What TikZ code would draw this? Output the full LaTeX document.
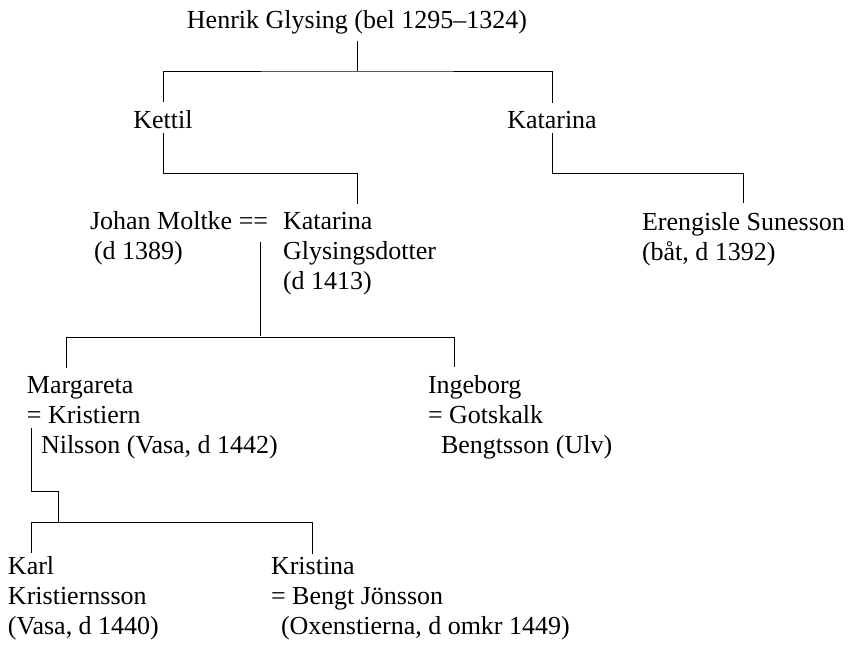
\documentclass[tikz,border=0pt]{standalone}
\usepackage{fontspec}
\setmainfont{Liberation Serif}
\newcommand\stacklines[1]{\vtop{\baselineskip=30pt\lineskiplimit=-10pt\halign{##\hfil\cr#1\crcr}}}
\tikzset{
  person/.style={inner sep=0pt, outer sep=0pt, anchor=base west, font=\fontsize{26}{30}\selectfont},
  link/.style={line width=0.9pt, line cap=butt, line join=miter}
}
\begin{document}
\begin{tikzpicture}[x=1pt,y=-1pt]
\useasboundingbox (0,0) rectangle (859,645);
% people
\node[person, anchor=base] (henrik) at (357,28) {Henrik Glysing (bel 1295–1324)};
\node[person, anchor=base] (kettil) at (163,128) {Kettil};
\node[person, anchor=base] (katarina) at (552,128) {Katarina};
\node[person] (johan) at (90,229) {\stacklines{Johan Moltke ==\cr\hskip4pt(d 1389)}};
\node[person] (kg) at (283,229) {\stacklines{Katarina\cr Glysingsdotter\cr (d 1413)}};
\node[person] (eren) at (642,230) {\stacklines{Erengisle Sunesson\cr (båt, d 1392)}};
\node[person] (marg) at (27,393) {\stacklines{Margareta\cr = Kristiern\cr\hskip14pt Nilsson (Vasa, d 1442)}};
\node[person] (inge) at (428,393) {\stacklines{Ingeborg\cr = Gotskalk\cr\hskip13pt Bengtsson (Ulv)}};
\node[person] (karl) at (8,574) {\stacklines{Karl\cr Kristiernsson\cr (Vasa, d 1440)}};
\node[person] (kris) at (271,574) {\stacklines{Kristina\cr = Bengt Jönsson\cr\hskip10pt(Oxenstierna, d omkr 1449)}};
% junction coordinates
\coordinate (hb) at (henrik.south |- 0,71);
\coordinate (kb) at (357,173);
\coordinate (couple) at (260,242);
\coordinate (mline) at (31,428);
% connectors
\draw[link] ([yshift=-7pt]henrik.south) -- (hb);
\draw[link] ([yshift=8pt]kettil.north) |- (hb) -| ([yshift=8pt]katarina.north);
\draw[link, shorten >=8pt] ([yshift=-5pt]kettil.south) |- (kb) -- (kb |- kg.north);
\draw[link] ([yshift=-5pt]katarina.south) -- ++(0,40) -| ([yshift=9pt]eren.north);
\draw[link] (couple) -- ++(0,94);
\draw[link] ([xshift=39pt,yshift=8pt]marg.north west) -- ++(0,-31) -| ([xshift=26pt,yshift=8pt]inge.north west);
\draw[link] (mline) -- ++(0,63) -- ++(27,0) -- ++(0,31);
\draw[link] ([xshift=23pt,yshift=3pt]karl.north west) -- ++(0,-31) -| ([xshift=41pt,yshift=3pt]kris.north west);
\end{tikzpicture}
\end{document}
